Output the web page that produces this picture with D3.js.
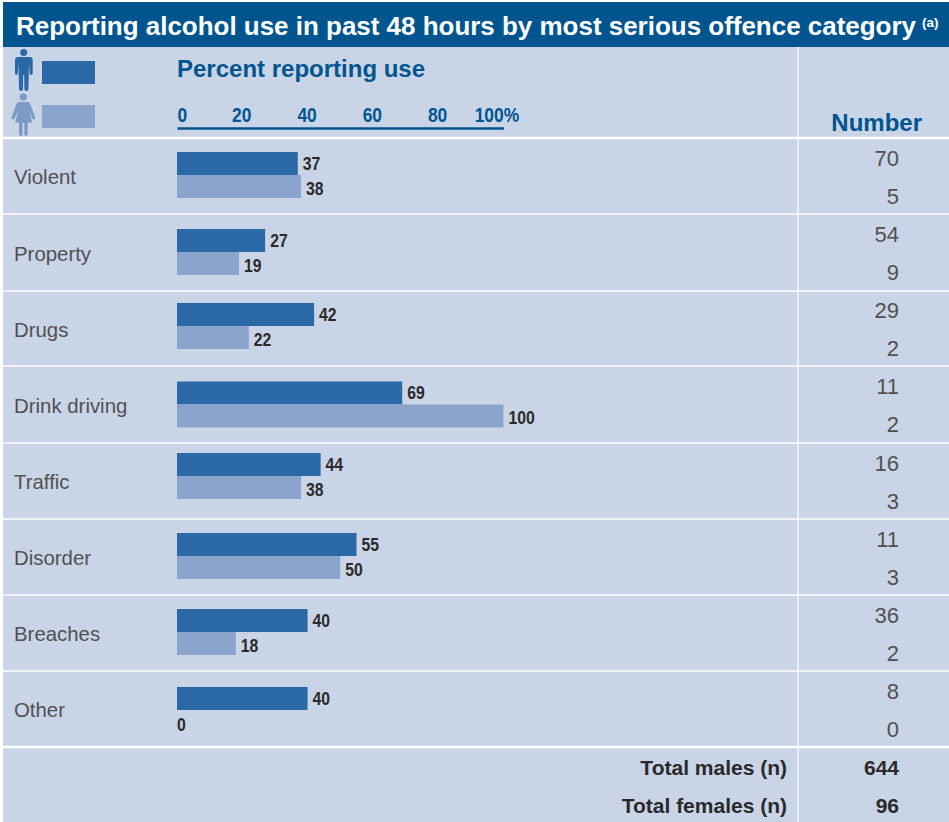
<!DOCTYPE html>
<html>
<head>
<meta charset="utf-8">
<script src="https://cdn.jsdelivr.net/npm/d3@7/dist/d3.min.js"></script>
<style>
html,body{margin:0;padding:0;background:#fff}
svg{display:block}
text{font-family:"Liberation Sans",Arial,sans-serif}
</style>
</head>
<body>
<svg id="chart" width="949" height="822"></svg>
<script>
// Offence categories and the two series per category
const categories = ["Violent","Property","Drugs","Drink driving","Traffic","Disorder","Breaches","Other"];
const malePercent = [37,27,42,69,44,55,40,40];
const femalePercent = [38,19,22,100,38,50,18,0];
const maleNumber = [70,54,29,11,16,11,36,8];
const femaleNumber = [5,9,2,2,3,3,2,0];
const axisTicks = [0,20,40,60,80,100];
const totalLabels = ["Total males (n)","Total females (n)"];
const totalValues = [644,96];

// Palette
const navy = "#00558f", maleBlue = "#2a69a5", femaleBlue = "#8ba4cc", womanBlue = "#7b9ac4", panel = "#c9d4e7", ink = "#2b2a2b", thin = "#515153";

// Page geometry
const left = 3, right = 949, colX = 798;
const rowEdges = [138,214,291,366,443,519,595,671,747];
const numberTops = [138,214,290,366,443,519,595,671];
const barCentres = [175,252,326,404.5,476,556,632,710];
const barH = 23;
const lightFont = "Roboto, 'Liberation Sans', sans-serif";

const svg = d3.select("#chart");
const x = d3.scaleLinear().domain([0,100]).range([177,503.4]);

// Squeezes a label horizontally to stand in for a condensed bold face
function condense(sel, k){
  sel.each(function(){
    this.setAttribute("lengthAdjust","spacingAndGlyphs");
    this.setAttribute("textLength", this.getComputedTextLength()*k);
  });
}

// Background panel and title band
svg.append("rect").attr("x",left).attr("y",2).attr("width",right-left).attr("height",820).attr("fill",panel);
svg.append("rect").attr("x",left).attr("y",2).attr("width",right-left).attr("height",45).attr("fill",navy);

svg.append("text").attr("x",16).attr("y",35).attr("fill","#fff")
  .attr("font-size",26).attr("font-weight",700).attr("textLength",900).attr("lengthAdjust","spacingAndGlyphs")
  .text("Reporting alcohol use in past 48 hours by most serious offence category");
svg.append("text").attr("x",922).attr("y",27).attr("fill","#fff").attr("font-size",13.5).attr("font-weight",700).text("(a)");

// Rules between rows
svg.selectAll("line.row").data(rowEdges).join("line").attr("class","row")
  .attr("x1",left).attr("x2",right).attr("y1",d=>d).attr("y2",d=>d)
  .attr("stroke","#fff").attr("stroke-width",(d,i)=>(i===0||i===rowEdges.length-1)?2.5:1.5);
svg.append("line").attr("x1",colX).attr("x2",colX).attr("y1",47).attr("y2",822).attr("stroke","#fff").attr("stroke-width",1.2);

// Legend pictograms
const manIcon = svg.append("g").attr("fill",maleBlue);
manIcon.append("circle").attr("cx",23.7).attr("cy",52.5).attr("r",3.5);
manIcon.append("path").attr("d","M15 60 Q15 57 18 57 L29.7 57 Q32.7 57 32.7 60 L32.7 73 Q32.7 75 31.2 75 Q29.7 75 29.6 73 L29 64 L28.4 89 Q28.4 91 26.4 91 Q24.4 91 24.4 89 L24.2 75 L23.2 75 L23 89 Q23 91 21 91 Q19 91 19 89 L18.4 64 L17.8 73 Q17.7 75 16.5 75 Q15 75 15 73 Z");
const womanIcon = svg.append("g").attr("fill",womanBlue);
womanIcon.append("circle").attr("cx",23.3).attr("cy",97).attr("r",3.6);
womanIcon.append("path").attr("d","M19 102 L27.7 102 Q29.5 102 30.3 104 L35 117 Q35.5 119 34 119.5 Q33 120 32 118 L29 110 L32.3 122.5 L27.7 122.5 L27.7 134 Q27.7 136 25.9 136 Q24.3 136 24.3 134 L24.3 123 L22.5 123 L22.5 134 Q22.5 136 20.8 136 Q19 136 19 134 L19 122.5 L15.3 122.5 L18 110 L14.8 118 Q14 120 12.8 119.5 Q11.3 119 11.7 117 L16.4 104 Q17.2 102 19 102 Z");
svg.append("rect").attr("x",42).attr("y",61).attr("width",53).attr("height",23).attr("fill",maleBlue);
svg.append("rect").attr("x",42).attr("y",105).attr("width",53).attr("height",23).attr("fill",femaleBlue);

// Axis heading, axis and column heading
svg.append("text").attr("x",177).attr("y",77).attr("fill",navy).attr("font-size",24).attr("font-weight",700).text("Percent reporting use");
const axis = d3.axisTop(x).tickValues(axisTicks).tickSize(0).tickPadding(6).tickFormat(d=>d===100?"100%":d);
const axisG = svg.append("g").attr("transform","translate(0,128)").call(axis);
axisG.select(".domain").attr("stroke",navy).attr("stroke-width",2.5);
axisG.selectAll("text").attr("fill",navy).attr("font-size",20).attr("font-weight",700)
  .attr("text-anchor","start")
  .call(condense,0.87);
// Condensed ticks sit centred on their value, with 0 starting at the axis origin
axisG.selectAll("text").attr("dx",function(d){
  const w = +this.getAttribute("textLength");
  return d===0 ? 0 : d===100 ? -w/2-7 : -w/2-1;
});
svg.append("text").attr("x",922).attr("y",131).attr("text-anchor","end").attr("fill",navy).attr("font-size",24).attr("font-weight",700).text("Number");

// One row per offence category
const rows = svg.selectAll("g.cat").data(categories).join("g").attr("class","cat");
rows.append("text").attr("x",14).attr("y",(d,i)=>(rowEdges[i]+rowEdges[i+1])/2+8)
  .attr("fill",thin).attr("font-family",lightFont).attr("font-weight",300).attr("font-size",20.4).text(d=>d);

rows.append("rect").attr("x",x(0)).attr("y",(d,i)=>barCentres[i]-barH).attr("height",barH)
  .attr("width",(d,i)=>x(malePercent[i])-x(0)).attr("fill",maleBlue);
rows.append("rect").attr("x",x(0)).attr("y",(d,i)=>barCentres[i]).attr("height",barH)
  .attr("width",(d,i)=>x(femalePercent[i])-x(0)).attr("fill",femaleBlue);

const valueStyle = s=>s.attr("fill",ink).attr("font-size",17.5).attr("font-weight",700);
rows.append("text").call(valueStyle).attr("x",(d,i)=>x(malePercent[i])+5)
  .attr("y",(d,i)=>barCentres[i]-5.5).text((d,i)=>malePercent[i]).call(condense,0.9);
rows.append("text").call(valueStyle).attr("x",(d,i)=>x(femalePercent[i])+5*(femalePercent[i]>0))
  .attr("y",(d,i)=>barCentres[i]+19.5+(femalePercent[i]>0?0:1)).text((d,i)=>femalePercent[i]).call(condense,0.9);

rows.append("text").attr("x",899).attr("y",(d,i)=>numberTops[i]+28).attr("text-anchor","end")
  .attr("fill",thin).attr("font-family",lightFont).attr("font-weight",300).attr("font-size",22).text((d,i)=>maleNumber[i]);
rows.append("text").attr("x",899).attr("y",(d,i)=>numberTops[i]+66).attr("text-anchor","end")
  .attr("fill",thin).attr("font-family",lightFont).attr("font-weight",300).attr("font-size",22).text((d,i)=>femaleNumber[i]);

// Totals
const totals = svg.selectAll("g.total").data(totalLabels).join("g").attr("class","total");
totals.append("text").attr("x",787).attr("y",(d,i)=>775+i*38).attr("text-anchor","end")
  .attr("fill",ink).attr("font-size",21).attr("font-weight",700).text(d=>d);
totals.append("text").attr("x",899).attr("y",(d,i)=>775+i*38).attr("text-anchor","end")
  .attr("fill",ink).attr("font-size",21).attr("font-weight",700).text((d,i)=>totalValues[i]);
</script>
</body>
</html>
